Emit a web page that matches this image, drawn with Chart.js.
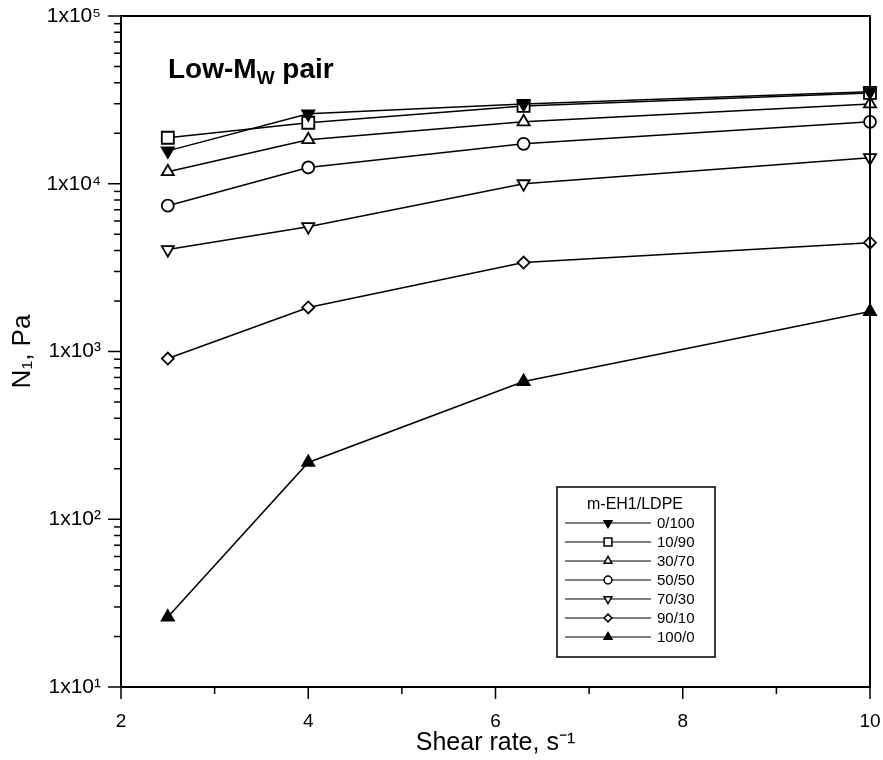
<!DOCTYPE html>
<html>
<head>
<meta charset="utf-8">
<script src="https://cdn.jsdelivr.net/npm/chart.js@4.4.0/dist/chart.umd.min.js"></script>
<style>
  html, body { margin: 0; padding: 0; background: #fff; }
  #wrap { width: 883px; height: 760px; }
</style>
</head>
<body>
<div id="wrap"><canvas id="n1Chart" width="883" height="760"></canvas></div>
<script>
// N1 vs shear rate, Low-Mw pair (m-EH1/LDPE blends)

const shearRates = [2.5, 4, 6.3, 10];
const blendLabels = ['0/100', '10/90', '30/70', '50/50', '70/30', '90/10', '100/0'];
const n1_0_100 = [15700, 26100, 29900, 35300];
const n1_10_90 = [18800, 23100, 29100, 34800];
const n1_30_70 = [11800, 18300, 23400, 29900];
const n1_50_50 = [7400, 12500, 17300, 23400];
const n1_70_30 = [4050, 5550, 10000, 14300];
const n1_90_10 = [908, 1830, 3390, 4450];
const n1_100_0 = [26.1, 218, 662, 1730];

const xTickValues = [2, 3, 4, 5, 6, 7, 8, 9, 10];
const xTickLabels = ['2', '', '4', '', '6', '', '8', '', '10'];
const yDecades = [10, 100, 1000, 10000, 100000];
const yDecadeLabels = ['1x10\u00B9', '1x10\u00B2', '1x10\u00B3', '1x10\u2074', '1x10\u2075'];

const FONT = "'Liberation Sans', Arial, sans-serif";

// marker styles per blend
const markers = [
    { pointStyle: 'triangle', rotation: 180, radius: 7, fill: '#000' },
    { pointStyle: 'rect', rotation: 0, radius: 8.5, fill: '#fff' },
    { pointStyle: 'triangle', rotation: 0, radius: 7, fill: '#fff' },
    { pointStyle: 'circle', rotation: 0, radius: 6, fill: '#fff' },
    { pointStyle: 'triangle', rotation: 180, radius: 7, fill: '#fff' },
    { pointStyle: 'rectRot', rotation: 0, radius: 6, fill: '#fff' },
    { pointStyle: 'triangle', rotation: 0, radius: 7, fill: '#000' }
];
const seriesValues = [n1_0_100, n1_10_90, n1_30_70, n1_50_50, n1_70_30, n1_90_10, n1_100_0];

const datasets = seriesValues.map((vals, i) => ({
    label: blendLabels[i],
    data: shearRates.map((x, j) => ({ x: x, y: vals[j] })),
    borderColor: '#000',
    borderWidth: 1.5,
    backgroundColor: markers[i].fill,
    pointStyle: markers[i].pointStyle,
    pointRotation: markers[i].rotation,
    pointRadius: markers[i].radius,
    pointBackgroundColor: markers[i].fill,
    pointBorderColor: '#000',
    pointBorderWidth: 1.8,
    clip: false,
    tension: 0
}));

function isDecade(v) {
    const e = Math.log10(v);
    return Math.abs(e - Math.round(e)) < 1e-6;
}

// frame, tick marks, legend box and the "Low-Mw pair" note
const decorPlugin = {
    id: 'decor',
    afterDraw(chart) {
        const { ctx, chartArea: a, scales } = chart;
        const xs = scales.x, ys = scales.y;
        ctx.save();
        ctx.strokeStyle = '#000';

        // ticks
        ctx.lineWidth = 1.5;
        ys.ticks.forEach(t => {
            const py = ys.getPixelForValue(t.value);
            const len = isDecade(t.value) ? 13 : 7;
            ctx.beginPath();
            ctx.moveTo(a.left - len, py);
            ctx.lineTo(a.left, py);
            ctx.stroke();
        });
        xs.ticks.forEach(t => {
            const px = xs.getPixelForValue(t.value);
            const len = t.value % 2 === 0 ? 12 : 7;
            ctx.beginPath();
            ctx.moveTo(px, a.bottom);
            ctx.lineTo(px, a.bottom + len);
            ctx.stroke();
        });

        // frame
        ctx.lineWidth = 2;
        ctx.strokeRect(a.left, a.top, a.right - a.left, a.bottom - a.top);

        // note
        ctx.fillStyle = '#000';
        ctx.textBaseline = 'alphabetic';
        ctx.textAlign = 'left';
        let tx = 168, ty = 78;
        ctx.font = 'bold 28px ' + FONT;
        ctx.fillText('Low-M', tx, ty);
        tx += ctx.measureText('Low-M').width;
        ctx.font = 'bold 19px ' + FONT;
        ctx.fillText('W', tx, ty + 6);
        tx += ctx.measureText('W').width;
        ctx.font = 'bold 28px ' + FONT;
        ctx.fillText(' pair', tx, ty);

        // legend
        const bx = 557, by = 487, bw = 158, bh = 170;
        ctx.fillStyle = '#fff';
        ctx.fillRect(bx, by, bw, bh);
        ctx.lineWidth = 1.5;
        ctx.strokeRect(bx, by, bw, bh);
        ctx.fillStyle = '#000';
        ctx.font = '16px ' + FONT;
        ctx.textAlign = 'center';
        ctx.textBaseline = 'middle';
        ctx.fillText('m-EH1/LDPE', bx + 78, by + 18);
        ctx.textAlign = 'left';
        ctx.font = '15px ' + FONT;
        chart.data.datasets.forEach((ds, i) => {
            const ry = by + 36 + i * 19;
            ctx.strokeStyle = '#000';
            ctx.lineWidth = 1.2;
            ctx.beginPath();
            ctx.moveTo(bx + 8, ry);
            ctx.lineTo(bx + 94, ry);
            ctx.stroke();
            ctx.fillStyle = ds.pointBackgroundColor;
            ctx.lineWidth = 1.5;
            if (Chart.helpers && Chart.helpers.drawPoint) {
                Chart.helpers.drawPoint(ctx, {
                    pointStyle: ds.pointStyle,
                    rotation: ds.pointRotation,
                    radius: ds.pointRadius * 0.65,
                    borderWidth: 1.5
                }, bx + 51, ry);
            }
            ctx.fillStyle = '#000';
            ctx.fillText(ds.label, bx + 100, ry + 1);
        });
        ctx.restore();
    }
};

const ctx = document.getElementById('n1Chart').getContext('2d');
new Chart(ctx, {
    type: 'line',
    data: { datasets: datasets },
    plugins: [decorPlugin],
    options: {
        responsive: false,
        animation: false,
        layout: { padding: { left: 7, right: 13, top: 16, bottom: 2 } },
        plugins: {
            legend: { display: false },
            tooltip: { enabled: false }
        },
        scales: {
            x: {
                type: 'linear',
                min: 2,
                max: 10,
                afterBuildTicks(scale) {
                    scale.ticks = xTickValues.map(v => ({ value: v }));
                },
                afterFit(scale) {
                    scale.height = 71;
                    scale.paddingLeft = 0;
                    scale.paddingRight = 0;
                },
                grid: { display: false, drawTicks: false },
                border: { display: false },
                ticks: {
                    autoSkip: false,
                    maxRotation: 0,
                    padding: 23,
                    color: '#000',
                    font: { family: FONT, size: 19 },
                    callback: (v) => xTickLabels[xTickValues.indexOf(v)]
                },
                title: {
                    display: true,
                    text: 'Shear rate, s\u207B\u00B9',
                    color: '#000',
                    font: { family: FONT, size: 25 },
                    padding: 0
                }
            },
            y: {
                type: 'logarithmic',
                min: 10,
                max: 100000,
                afterBuildTicks(scale) {
                    const ticks = [];
                    yDecades.forEach((d, i) => {
                        if (i === yDecades.length - 1) {
                            ticks.push({ value: d });
                            return;
                        }
                        for (let m = 1; m < 10; m++) ticks.push({ value: d * m });
                    });
                    scale.ticks = ticks;
                },
                afterFit(scale) {
                    scale.width = 114;
                    scale.paddingTop = 0;
                    scale.paddingBottom = 0;
                },
                grid: { display: false, drawTicks: false },
                border: { display: false },
                ticks: {
                    autoSkip: false,
                    padding: 20,
                    color: '#000',
                    font: { family: FONT, size: 21 },
                    callback: (v) => {
                        const k = yDecades.indexOf(v);
                        return k >= 0 ? yDecadeLabels[k] : '';
                    }
                },
                title: {
                    display: true,
                    text: 'N\u2081, Pa',
                    color: '#000',
                    font: { family: FONT, size: 26 },
                    padding: 0
                }
            }
        }
    }
});
</script>
</body>
</html>
